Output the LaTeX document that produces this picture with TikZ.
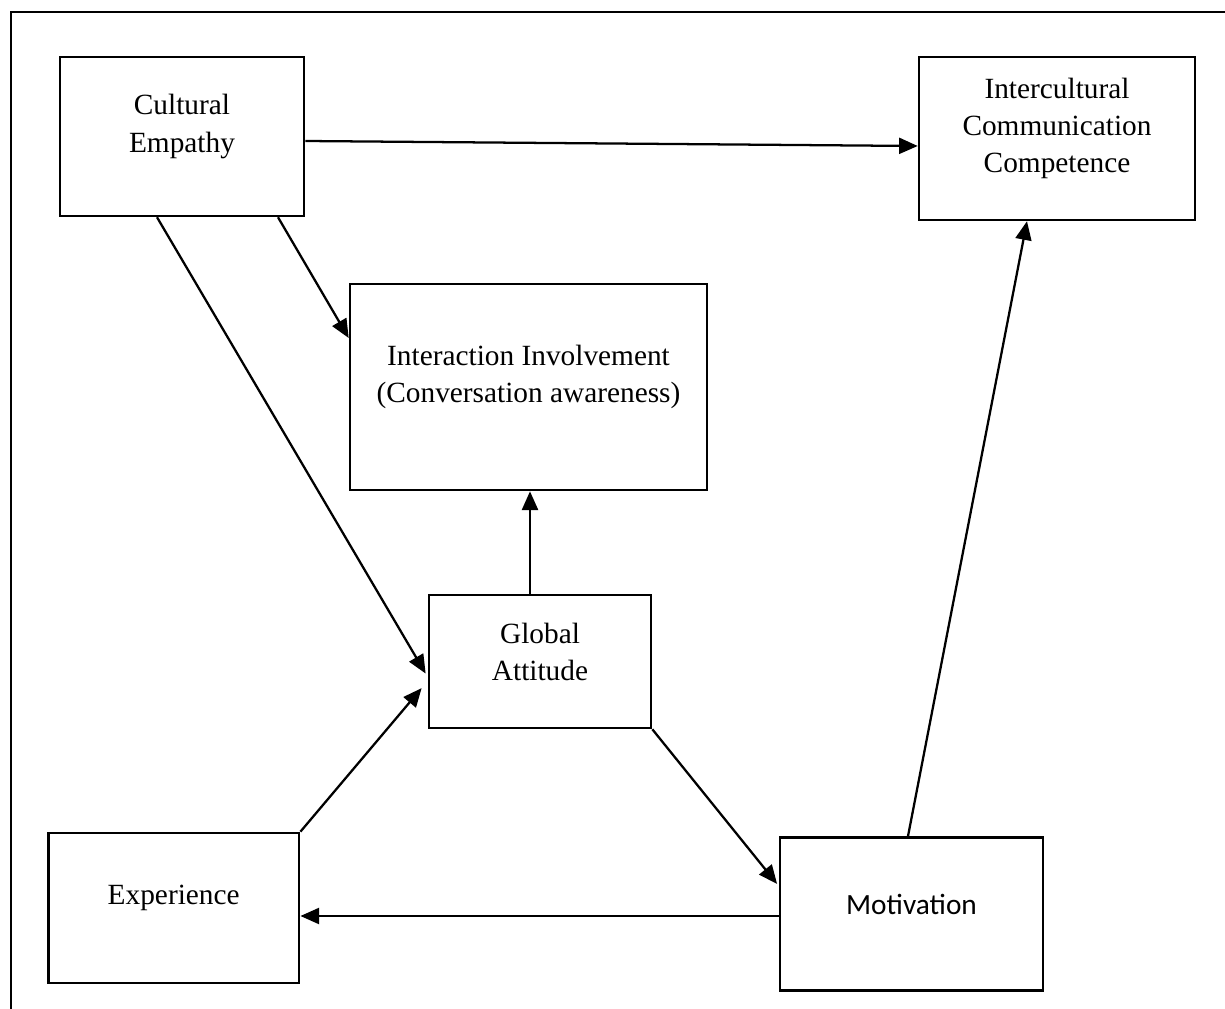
\documentclass[tikz,border=0pt]{standalone}
\usepackage{fontspec}
\setmainfont{Liberation Serif}
\newfontfamily\motivfont{Carlito}
\usetikzlibrary{arrows.meta}

\begin{document}
\begin{tikzpicture}[x=0.375pt, y=-0.375pt,
  box/.style={draw=black, line width=.95pt, fill=white, inner sep=0pt},
  txt/.style={font=\fontsize{11}{13.9}\selectfont, align=center, yshift=3.75pt},
  link/.style={-{Triangle[length=7pt, width=6pt]}, line width=.85pt, black},
  frame/.style={line width=.85pt, black}
]
\useasboundingbox (0,0) rectangle (1225,1009);
\draw[frame] (1225,12) -- (11,12) -- (11,1009);

\node[box, minimum width=91.5pt, minimum height=59.6pt,
      label={[txt]center:Cultural\\Empathy}] (cemp) at (182,136.5) {};
\node[box, minimum width=103.5pt, minimum height=61.1pt,
      label={[txt]center:Intercultural\\Communication\\Competence}] (icc) at (1057,138.5) {};
\node[box, minimum width=133.9pt, minimum height=77.3pt,
      label={[txt]center:Interaction Involvement\\(Conversation awareness)}] (inv) at (528.5,387) {};
\node[box, minimum width=83.3pt, minimum height=49.9pt,
      label={[txt]center:Global\\Attitude}] (glob) at (540,661.5) {};
\node[box, minimum width=94.1pt, minimum height=56.3pt,
      label={[txt]center:Experience}] (exper) at (173.7,908) {};
\node[box, minimum width=98.6pt, minimum height=57.4pt,
      label={[txt, font=\motivfont\fontsize{11}{13.9}\selectfont]center:Motivation}] (motiv) at (911.5,914) {};

\draw[link] (cemp.east |- 0,141) -- (icc.west |- 0,146);
\draw[link] (cemp.south -| 278,0) -- (inv.west |- 0,338);
\draw[link, shorten >=1.5pt] (cemp.south -| 157,0) -- (glob.west |- 0,677);
\draw[link] (glob.north -| 530,0) -- (inv.south -| 530,0);
\draw[link, shorten >=3.5pt] (exper.north east) -- (glob.west |- 0,681);
\draw[link, shorten >=1pt] (glob.south east) -- (motiv.west |- 0,886);
\draw[link] (motiv.west |- 0,916) -- (exper.east |- 0,916);
\draw[link] (motiv.north -| 908,0) -- (icc.south -| 1027,0);
\end{tikzpicture}
\end{document}
